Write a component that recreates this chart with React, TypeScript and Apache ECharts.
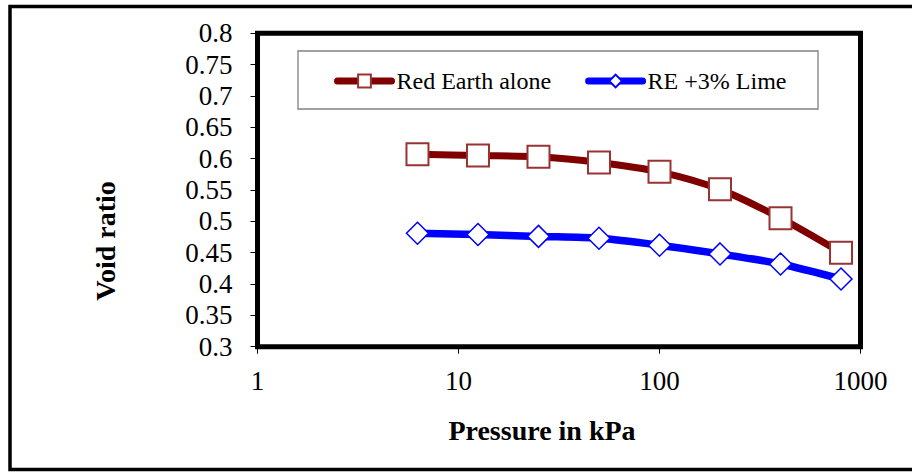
import React, { useEffect, useRef } from "react";
import * as echarts from "echarts";

const pressures = [6.25, 12.5, 25, 50, 100, 200, 400, 800];
const redEarthAlone = [0.607, 0.605, 0.603, 0.594, 0.579, 0.551, 0.505, 0.45];
const reLime = [0.481, 0.479, 0.476, 0.473, 0.462, 0.448, 0.432, 0.408];
const seriesNames = ["Red Earth alone", "RE +3% Lime"];
const xTitle = "Pressure in kPa";
const yTitle = "Void ratio";

const FONT = "Liberation Serif";

export default function App() {
  const ref = useRef<HTMLDivElement>(null);
  useEffect(() => {
    if (!ref.current) return;
    const chart = echarts.init(ref.current, undefined, { renderer: "svg" });
    const pair = (ys: number[]) => pressures.map((p, i) => [p, ys[i]]);
    chart.setOption({
      animation: false,
      backgroundColor: "#fff",
      grid: {
        left: 257.5,
        right: 51.5,
        top: 33.3,
        bottom: 125.3,
        show: true,
        borderColor: "#000",
        borderWidth: 5,
        backgroundColor: "transparent",
      },
      legend: {
        left: 334,
        top: 69,
        padding: 0,
        itemWidth: 54,
        itemHeight: 16,
        itemGap: 34,
        lineStyle: { width: 7, cap: "round" },
        textStyle: { fontFamily: FONT, fontSize: 24, color: "#000" },
        data: seriesNames,
      },
      xAxis: {
        type: "log",
        logBase: 10,
        min: 1,
        max: 1000,
        axisLine: { show: false },
        axisTick: { show: true, inside: false, length: 7, lineStyle: { color: "#000", width: 1 } },
        minorTick: { show: false },
        splitLine: { show: false },
        axisLabel: {
          fontFamily: FONT,
          fontSize: 27,
          color: "#000",
          margin: 21,
          formatter: (v: number) => String(Math.round(v)),
        },
      },
      yAxis: {
        type: "value",
        min: 0.3,
        max: 0.8,
        interval: 0.05,
        axisLine: { show: false },
        axisTick: { show: true, inside: false, length: 7, lineStyle: { color: "#000", width: 1 } },
        splitLine: { show: false },
        axisLabel: {
          fontFamily: FONT,
          fontSize: 27,
          color: "#000",
          margin: 25,
          formatter: (v: number) => String(+v.toFixed(2)),
        },
      },
      graphic: [
        {
          type: "rect",
          shape: { x: 10, y: 6.5, width: 930, height: 463 },
          style: { fill: "none", stroke: "#000", lineWidth: 3.5 },
          z: 0,
        },
        {
          type: "rect",
          shape: { x: 298, y: 51, width: 520, height: 58 },
          style: { fill: "none", stroke: "#808080", lineWidth: 1.3 },
          z: 0,
        },
        {
          type: "text",
          x: 542,
          y: 430,
          style: {
            text: xTitle,
            fontFamily: FONT,
            fontWeight: "bold",
            fontSize: 28,
            fill: "#000",
            align: "center",
            verticalAlign: "middle",
          },
        },
        {
          type: "text",
          x: 105,
          y: 241,
          rotation: Math.PI / 2,
          style: {
            text: yTitle,
            fontFamily: FONT,
            fontWeight: "bold",
            fontSize: 28,
            fill: "#000",
            align: "center",
            verticalAlign: "middle",
          },
        },
      ],
      series: [
        {
          name: seriesNames[0],
          type: "line",
          data: pair(redEarthAlone),
          smooth: 0.3,
          symbol: "rect",
          symbolSize: 22,
          lineStyle: { color: "#800000", width: 7 },
          itemStyle: { color: "#fff", borderColor: "#993333", borderWidth: 2 },
          z: 3,
        },
        {
          name: seriesNames[1],
          type: "line",
          data: pair(reLime),
          smooth: 0.3,
          symbol: "diamond",
          symbolSize: 22,
          lineStyle: { color: "#0000ff", width: 7.5 },
          itemStyle: { color: "#fff", borderColor: "#0000ff", borderWidth: 1.5 },
          z: 3,
        },
      ],
    });
    return () => chart.dispose();
  }, []);
  return (
    <div
      ref={ref}
      style={{ position: "fixed", left: 0, top: 0, width: 912, height: 472 }}
    />
  );
}
